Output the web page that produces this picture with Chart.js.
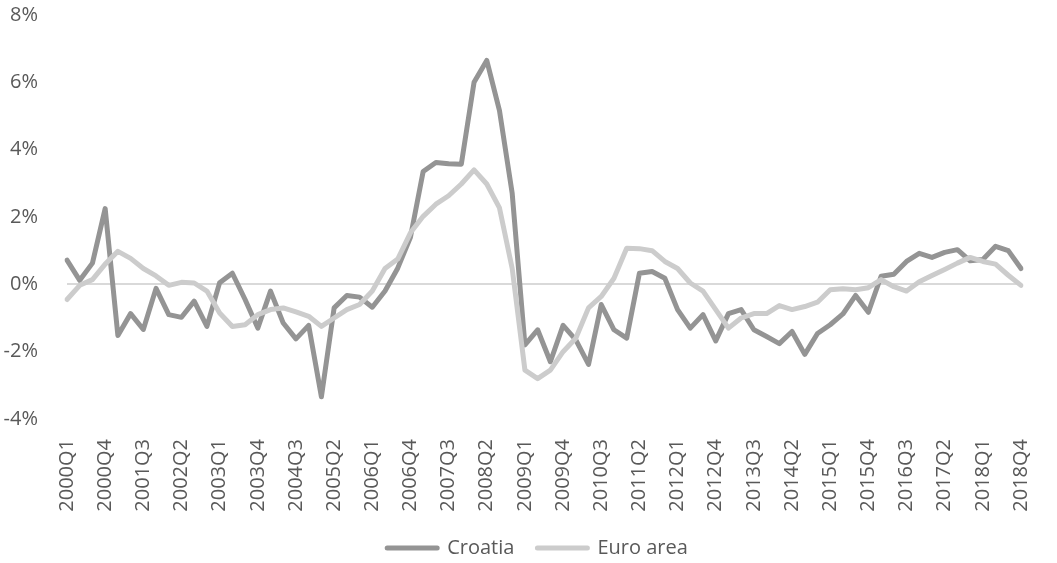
<!DOCTYPE html>
<html>
<head>
<meta charset="utf-8">
<script src="https://cdn.jsdelivr.net/npm/chart.js@4"></script>
<style>
  html, body { margin: 0; padding: 0; background: #fff; }
  #wrap { width: 1057px; height: 563px; }
</style>
</head>
<body>
<div id="wrap"><canvas id="gapChart"></canvas></div>
<script>
// quarters 2000Q1 .. 2018Q4
const years = [2000, 2001, 2002, 2003, 2004, 2005, 2006, 2007, 2008, 2009,
  2010, 2011, 2012, 2013, 2014, 2015, 2016, 2017, 2018];
const quarters = [];
years.forEach(y => { for (let q = 1; q <= 4; q++) quarters.push(`${y}Q${q}`); });

// values in %
const croatia = [
  0.72, 0.12, 0.63, 2.25, -1.52, -0.87, -1.34, -0.12, -0.90, -0.98,
  -0.50, -1.25, 0.05, 0.33, -0.45, -1.30, -0.20, -1.15, -1.62, -1.22,
  -3.34, -0.70, -0.33, -0.38, -0.68, -0.20, 0.48, 1.40, 3.35, 3.62,
  3.58, 3.57, 6.00, 6.65, 5.16, 2.70, -1.80, -1.35, -2.30, -1.22,
  -1.65, -2.38, -0.60, -1.35, -1.60, 0.33, 0.38, 0.18, -0.75, -1.30,
  -0.90, -1.68, -0.87, -0.75, -1.35, -1.55, -1.76, -1.40, -2.08, -1.46,
  -1.20, -0.88, -0.33, -0.83, 0.24, 0.30, 0.68, 0.92, 0.80, 0.95,
  1.03, 0.70, 0.74, 1.13, 1.00, 0.47
];
const euroArea = [
  -0.45, -0.03, 0.14, 0.60, 0.98, 0.77, 0.47, 0.25, -0.03, 0.06,
  0.04, -0.20, -0.85, -1.25, -1.20, -0.90, -0.75, -0.70, -0.82, -0.95,
  -1.25, -1.00, -0.75, -0.60, -0.20, 0.47, 0.75, 1.53, 2.02, 2.38,
  2.63, 2.98, 3.40, 2.98, 2.27, 0.47, -2.55, -2.80, -2.55, -2.00,
  -1.60, -0.70, -0.36, 0.18, 1.07, 1.06, 1.00, 0.68, 0.47, 0.04,
  -0.20, -0.75, -1.30, -1.00, -0.87, -0.87, -0.63, -0.75, -0.66, -0.53,
  -0.16, -0.13, -0.16, -0.10, 0.14, -0.07, -0.20, 0.08, 0.26, 0.44,
  0.63, 0.80, 0.68, 0.60, 0.27, -0.03
];

const textColor = '#595959';
const font = { family: '"Open Sans", sans-serif', size: 20 };

// nudge the legend a bit to the right, like the original
const legendShift = {
  id: 'legendShift',
  afterLayout(chart) {
    if (chart.legend) chart.legend.left += 28;
  },
};

new Chart(document.getElementById('gapChart'), {
  type: 'line',
  data: {
    labels: quarters,
    datasets: [
      { label: 'Croatia', data: croatia, borderColor: '#949494', backgroundColor: '#949494', order: 1 },
      { label: 'Euro area', data: euroArea, borderColor: '#cccccc', backgroundColor: '#cccccc', order: 0 },
    ],
  },
  options: {
    responsive: true,
    maintainAspectRatio: false,
    animation: false,
    layout: { padding: { top: 15, right: 10, left: 0, bottom: -5 } },
    elements: {
      point: { radius: 0 },
      line: { borderWidth: 5, tension: 0, fill: false, borderCapStyle: 'round', borderJoinStyle: 'round' },
    },
    plugins: {
      tooltip: { enabled: false },
      legend: {
        position: 'bottom',
        labels: {
          boxWidth: 50,
          boxHeight: 0,
          padding: 23,
          color: textColor,
          font,
          sort: (a, b) => a.datasetIndex - b.datasetIndex,
        },
      },
    },
    scales: {
      x: {
        grid: { display: false },
        border: { display: false },
        afterFit: s => { s.height = 96; },
        ticks: {
          autoSkip: false,
          maxRotation: 90,
          minRotation: 90,
          padding: 12,
          color: textColor,
          font,
          callback: (v, i) => (i % 3 === 0 ? quarters[i] : ''),
        },
      },
      y: {
        min: -4,
        max: 8,
        afterFit: s => { s.width = 67; s.paddingTop = 0; s.paddingBottom = 0; },
        border: { display: false },
        grid: {
          drawTicks: false,
          lineWidth: 2,
          color: c => (c.tick && c.tick.value === 0 ? '#d9d9d9' : 'rgba(0,0,0,0)'),
        },
        ticks: {
          stepSize: 2,
          padding: 29,
          color: textColor,
          font,
          callback: v => `${v}%`,
        },
      },
    },
  },
  plugins: [legendShift],
});
</script>
</body>
</html>
